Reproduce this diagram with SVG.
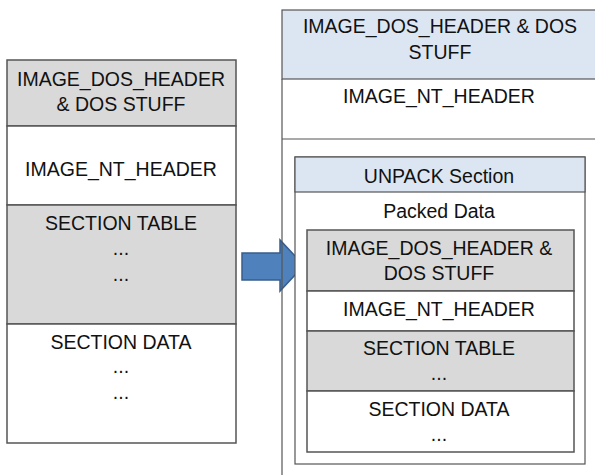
<svg xmlns="http://www.w3.org/2000/svg" width="595" height="475" viewBox="0 0 595 475">
<style>
text{font-family:"Liberation Sans","Noto Sans",Arial,sans-serif;font-size:19.5px;fill:#111;text-anchor:middle}
.g{fill:#d9d9d9;stroke:#555;stroke-width:1.5}
.w{fill:#fff;stroke:#555;stroke-width:1.5}
.b{fill:#dce6f2;stroke:#555;stroke-width:1.2}
.ln{stroke:#555;stroke-width:1.2;fill:none}
</style>
<rect width="595" height="475" fill="#fff"/>
<g id="left-pe">
<g id="left-dos"><rect class="g" x="7" y="60" width="229" height="66"/><text x="121" y="86">IMAGE_DOS_HEADER</text><text x="121" y="111">&amp; DOS STUFF</text></g>
<g id="left-nt"><rect class="w" x="7" y="126" width="229" height="79"/><text x="121" y="176">IMAGE_NT_HEADER</text></g>
<g id="left-sectable"><rect class="g" x="7" y="205" width="229" height="119"/><text x="121" y="230">SECTION TABLE</text><text x="121" y="255">...</text><text x="121" y="281">...</text></g>
<g id="left-secdata"><rect class="w" x="7" y="324" width="229" height="119"/><text x="121" y="349">SECTION DATA</text><text x="121" y="373">...</text><text x="121" y="399">...</text></g>
</g>
<g id="connectors">
<path d="M242,253 H280 V240 L304,265.5 L280,291 V280 H242 Z" fill="#4f81bd" stroke="#385d8a" stroke-width="1.5"/>
</g>
<g id="right-pe">
<g id="right-dos"><rect x="282" y="10" width="320" height="69" fill="#dce6f2" stroke="#555" stroke-width="1.2"/><text x="440" y="33">IMAGE_DOS_HEADER &amp; DOS</text><text x="440" y="59">STUFF</text></g>
<g id="right-nt"><line class="ln" x1="282" y1="79" x2="282" y2="139"/><line class="ln" x1="282" y1="139" x2="595" y2="139"/><text x="439" y="103">IMAGE_NT_HEADER</text></g>
<line class="ln" x1="282" y1="139" x2="282" y2="475"/>
</g>
<g id="unpack-section">
<rect class="w" x="295" y="157" width="290" height="307" style="stroke-width:1.2"/>
<rect class="b" x="295" y="157" width="290" height="35"/>
<text x="439" y="183">UNPACK Section</text>
<text x="439" y="218">Packed Data</text>
<g id="in-dos"><rect class="g" x="307" y="230" width="267" height="61"/><text x="439" y="255">IMAGE_DOS_HEADER &amp;</text><text x="439" y="280">DOS STUFF</text></g>
<g id="in-nt"><rect class="w" x="307" y="291" width="267" height="40"/><text x="439" y="316">IMAGE_NT_HEADER</text></g>
<g id="in-sectable"><rect class="g" x="307" y="331" width="267" height="60"/><text x="439" y="355">SECTION TABLE</text><text x="439" y="380">...</text></g>
<g id="in-secdata"><rect class="w" x="307" y="391" width="267" height="61"/><text x="439" y="416">SECTION DATA</text><text x="439" y="441">...</text></g>
</g>
</svg>
